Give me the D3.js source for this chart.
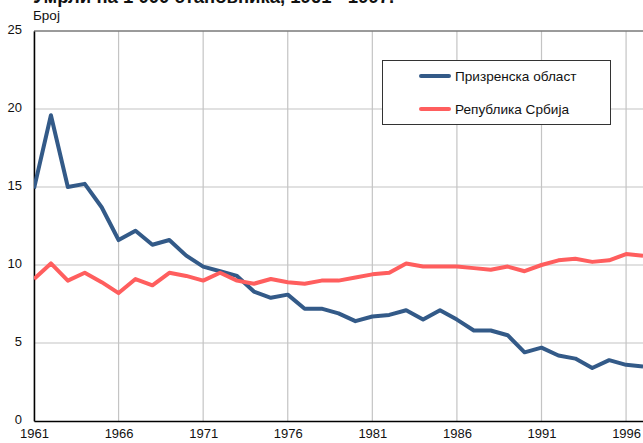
<!DOCTYPE html>
<html>
<head>
<meta charset="utf-8">
<script src="https://cdn.jsdelivr.net/npm/d3@7"></script>
<style>
  body { margin: 0; background: #fff; }
  svg { display: block; font-family: "Liberation Sans", Arial, sans-serif; }
</style>
</head>
<body>
<div id="container"></div>
<script>
// Умрли на 1 000 становника — Призренска област vs Република Србија

const years = d3.range(1961, 1998)
const prizren = [14.9, 19.6, 15.0, 15.2, 13.7, 11.6, 12.2, 11.3, 11.6, 10.6,
    9.9, 9.6, 9.3, 8.3, 7.9, 8.1, 7.2, 7.2, 6.9, 6.4,
    6.7, 6.8, 7.1, 6.5, 7.1, 6.5, 5.8, 5.8, 5.5, 4.4,
    4.7, 4.2, 4.0, 3.4, 3.9, 3.6, 3.5]
const srbija = [9.1, 10.1, 9.0, 9.5, 8.9, 8.2, 9.1, 8.7, 9.5, 9.3,
    9.0, 9.5, 9.0, 8.8, 9.1, 8.9, 8.8, 9.0, 9.0, 9.2,
    9.4, 9.5, 10.1, 9.9, 9.9, 9.9, 9.8, 9.7, 9.9, 9.6,
    10.0, 10.3, 10.4, 10.2, 10.3, 10.7, 10.6]
const seriesNames = ["Призренска област", "Република Србија"]
const seriesColors = ["#335a88", "#ff5e5e"]
const xTicks = [1961, 1966, 1971, 1976, 1981, 1986, 1991, 1996]
const yTicks = [0, 5, 10, 15, 20, 25]

const width = 643,
    height = 443
const padding = { top: 31, right: 0, bottom: 22, left: 34 }

const svg = d3.select("#container")
    .append("svg")
    .attr("width", width)
    .attr("height", height)

const xScale = d3.scaleLinear()
    .domain([1961, 1997])
    .range([padding.left, 643])

const yScale = d3.scaleLinear()
    .domain([0, 25])
    .range([height - padding.bottom, padding.top])

// grid
svg.append("g").attr("class", "grid-x")
    .selectAll("line")
    .data(xTicks)
    .enter()
    .append("line")
    .attr("x1", d => xScale(d))
    .attr("x2", d => xScale(d))
    .attr("y1", yScale(25))
    .attr("y2", yScale(0))
    .attr("stroke", "#c4c4c4")
    .attr("stroke-width", 1.2)

svg.append("g").attr("class", "grid-y")
    .selectAll("line")
    .data(yTicks.slice(1))
    .enter()
    .append("line")
    .attr("x1", padding.left)
    .attr("x2", width)
    .attr("y1", d => yScale(d))
    .attr("y2", d => yScale(d))
    .attr("stroke", "#c4c4c4")
    .attr("stroke-width", 1.2)

// frame: top line
svg.append("line")
    .attr("x1", padding.left).attr("x2", width)
    .attr("y1", yScale(25)).attr("y2", yScale(25))
    .attr("stroke", "#555").attr("stroke-width", 1)

const xAxis = d3.axisBottom(xScale)
    .tickValues(xTicks)
    .tickFormat(d3.format("d"))
    .tickSize(0)
    .tickPadding(8)

svg.append("g").attr("id", "x-axis")
    .attr("transform", `translate(0,${yScale(0)})`)
    .call(xAxis)
    .call(g => g.select(".domain").attr("stroke", "#000").attr("stroke-width", 1.5))
    .call(g => g.selectAll("text").attr("font-size", 13).attr("fill", "#111")
        .attr("font-family", "Liberation Sans, Arial, sans-serif"))

const yAxis = d3.axisLeft(yScale)
    .tickValues(yTicks)
    .tickSize(0)
    .tickPadding(12)

svg.append("g").attr("id", "y-axis")
    .attr("transform", `translate(${padding.left},0)`)
    .call(yAxis)
    .call(g => g.select(".domain").attr("stroke", "#000").attr("stroke-width", 1.5))
    .call(g => g.selectAll("text").attr("font-size", 13).attr("fill", "#111")
        .attr("dy", "0.2em")
        .attr("font-family", "Liberation Sans, Arial, sans-serif"))

// lines
const line = d3.line()
    .x((d, i) => xScale(years[i]))
    .y(d => yScale(d))

const plot = svg.append("g").attr("class", "lines")
plot.append("defs").append("clipPath").attr("id", "clip")
    .append("rect")
    .attr("x", padding.left).attr("y", 0)
    .attr("width", width - padding.left).attr("height", height)

;[prizren, srbija].forEach((s, k) => {
    plot.append("path")
        .datum(s)
        .attr("d", line)
        .attr("fill", "none")
        .attr("stroke", seriesColors[k])
        .attr("stroke-width", 4)
        .attr("stroke-linejoin", "round")
        .attr("clip-path", "url(#clip)")
})

// legend
const legend = svg.append("g").attr("id", "legend")
legend.append("rect")
    .attr("x", 382.5).attr("y", 60.5)
    .attr("width", 228).attr("height", 64)
    .attr("fill", "#fff")
    .attr("stroke", "#333")
    .attr("stroke-width", 1)

seriesNames.forEach((name, i) => {
    const y = 76 + i * 33
    legend.append("line")
        .attr("x1", 421).attr("x2", 449)
        .attr("y1", y).attr("y2", y)
        .attr("stroke", seriesColors[i])
        .attr("stroke-width", 4)
        .attr("stroke-linecap", "round")
    legend.append("text")
        .attr("x", 455).attr("y", y + 5)
        .attr("font-size", 13.6)
        .attr("fill", "#111")
        .text(name)
})

// titles (title is cut off at the top edge, as in the source)
svg.append("text")
    .attr("x", 33).attr("y", 2.5)
    .attr("font-size", 18.5)
    .attr("font-weight", "bold")
    .attr("fill", "#111")
    .text("Умрли на 1 000 становника, 1961 - 1997.")

svg.append("text")
    .attr("x", 33).attr("y", 20)
    .attr("font-size", 13.5)
    .attr("fill", "#111")
    .text("Број")
</script>
</body>
</html>
